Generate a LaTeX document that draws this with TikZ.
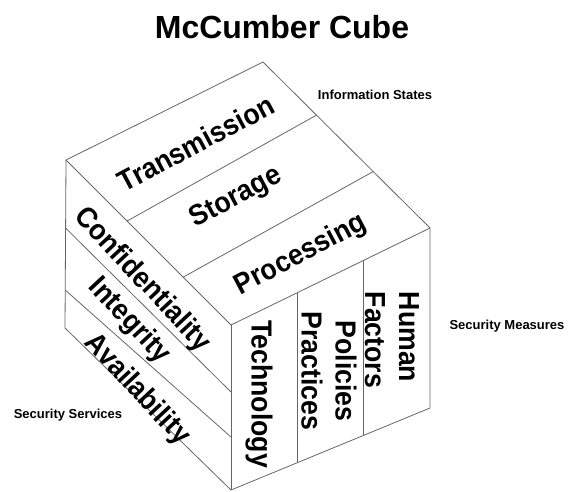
\documentclass[tikz,border=0pt]{standalone}
\usepackage{fontspec}
\setmainfont{Liberation Sans}
\newfontfamily\labfont{Liberation Sans Bold}
\newfontfamily\facefont{Liberation Sans Bold}[FakeStretch=0.92]
\usetikzlibrary{calc}
\begin{document}
\begin{tikzpicture}[x=1pt,y=-1pt,
  edge/.style={draw=black!60, line width=0.8pt, line join=round},
  lab/.style={inner sep=0pt, font=\facefont\fontsize{29}{34}\selectfont},
  small/.style={inner sep=0pt, font=\labfont\fontsize{13}{15}\selectfont},
  title/.style={inner sep=0pt, font=\labfont\fontsize{32}{38}\selectfont}]
\useasboundingbox (0,0) rectangle (569,491);
% cube vertices
\coordinate (B) at (263,62);
\coordinate (L) at (66,160);
\coordinate (F) at (231,325);
\coordinate (R) at (430,228);
\coordinate (LB) at (65,328);
\coordinate (FB) at (231,490);
\coordinate (RB) at (430,408);
% outline
\draw[edge] (L) -- (B) -- (R) -- (RB) -- (FB) -- (LB) -- cycle;
\draw[edge] (L) -- (F) -- (R);
\draw[edge] (F) -- (FB);
% top face strips
\draw[edge] ($(L)!0.37!(F)$) -- ($(B)!0.32!(R)$);
\draw[edge] ($(L)!0.71!(F)$) -- ($(B)!0.66!(R)$);
% left face strips
\draw[edge] ($(L)!0.405!(LB)$) -- ($(F)!0.406!(FB)$);
\draw[edge] ($(L)!0.774!(LB)$) -- ($(F)!0.679!(FB)$);
% right face columns
\draw[edge] ($(F)!1/3!(R)$) -- ($(FB)!1/3!(RB)$);
\draw[edge] ($(F)!2/3!(R)$) -- ($(FB)!2/3!(RB)$);
% labels
\node[title] (ttl) at (282,27) {McCumber Cube};
\node[small] (infost) at (375,95) {Information States};
\node[small] (secmeas) at (507,326) {Security Measures};
\node[small] (secserv) at (68,415) {Security Services};
\node[lab, rotate=28] (trans) at (196,143) {Transmission};
\node[lab, rotate=28] (stor) at (236,198) {Storage};
\node[lab, rotate=28] (proc) at (301,255) {Processing};
\node[lab, rotate=-47] (conf) at (142,280) {Confidentiality};
\node[lab, rotate=-47] (integ) at (129,321) {Integrity};
\node[lab, rotate=-47] (avail) at (137,390) {Availability};
\node[lab, rotate=-90] (tech) at (259,394) {Technology};
\node[lab, rotate=-90, align=center] (pol) at (329,371) {Policies\\Practices};
\node[lab, rotate=-90, align=left] (hum) at (392,340) {Human\\Factors};
\end{tikzpicture}
\end{document}
